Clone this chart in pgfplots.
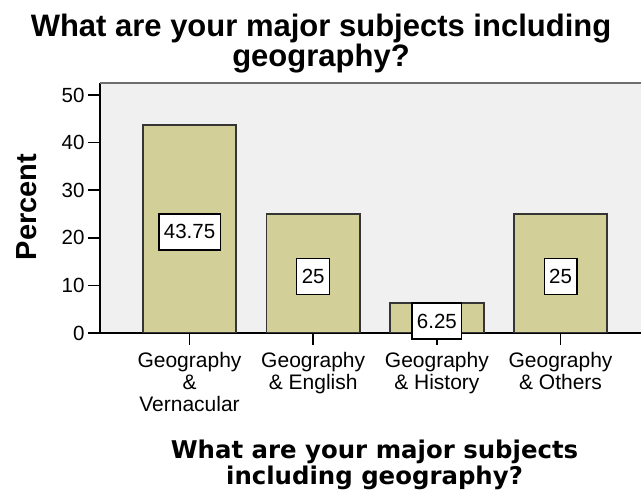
\documentclass[border=0pt]{standalone}
\usepackage{pgfplots}
\pgfplotsset{compat=1.18}
\usepackage{fontspec}
\setmainfont{Liberation Sans}
\newfontfamily\dejavu{DejaVu Sans}
\definecolor{barfill}{HTML}{D3CF98}
\definecolor{barline}{HTML}{353535}
\definecolor{bgfill}{HTML}{F0F0F0}
\definecolor{topline}{HTML}{6E6E6E}
\begin{document}
\begin{tikzpicture}
\clip (0pt,0pt) rectangle (641pt,496pt);
\begin{axis}[
 at={(100pt,163pt)}, anchor=south west,
 scale only axis, width=560pt, height=250pt,
 xmin=-0.7237, xmax=3.804, ymin=0, ymax=52.52,
 axis lines=left, axis line style={-},
 x axis line style={line width=1.5pt, black},
 y axis line style={line width=2pt, black},
 axis background/.style={fill=bgfill},
 xtick={0,1,2,3},
 xticklabels={{Geography\\\&\\Vernacular},{Geography\\\& English},{Geography\\\& History},{Geography\\\& Others}},
 xticklabel style={align=center, font=\fontsize{21}{22}\selectfont, yshift=-4pt},
 ytick={0,10,20,30,40,50},
 yticklabel style={font=\fontsize{20.5}{22}\selectfont},
 /pgf/number format/assume math mode=true,
 tick align=outside, major tick length=12pt,
 tick style={line width=1.5pt, black},
 ybar, bar width=93.5pt,
]
\addplot[fill=barfill, draw=barline, line width=1.8pt,
  visualization depends on={rawy \as \rawy},
  nodes near coords,
  every node near coord/.append style={anchor=center, fill=white, draw=black, line width=1.3pt,
    inner xsep=5pt, minimum height=36pt, text=black,
    font=\fontsize{20.5}{22}\selectfont,
    shift={(axis direction cs:0,-\rawy/2)}, yshift=-3pt}]
 coordinates {(0,43.75) (1,25) (2,6.25) (3,25)};
\draw[topline, line width=2.5pt] (rel axis cs:0,1) -- (rel axis cs:1,1);
\end{axis}
\node[anchor=base, font=\fontsize{31}{33}\selectfont\bfseries] at (321pt,459pt) {What are your major subjects including};
\node[anchor=base, font=\fontsize{31}{33}\selectfont\bfseries] at (321pt,429pt) {geography?};
\node[anchor=base, font=\dejavu\fontsize{24.4}{26}\selectfont\bfseries] at (374.5pt,37pt) {What are your major subjects};
\node[anchor=base, font=\dejavu\fontsize{24.4}{26}\selectfont\bfseries] at (374.5pt,11pt) {including geography?};
\node[anchor=base, rotate=90, font=\fontsize{29}{31}\selectfont\bfseries] at (37pt,289pt) {Percent};
\end{tikzpicture}
\end{document}
